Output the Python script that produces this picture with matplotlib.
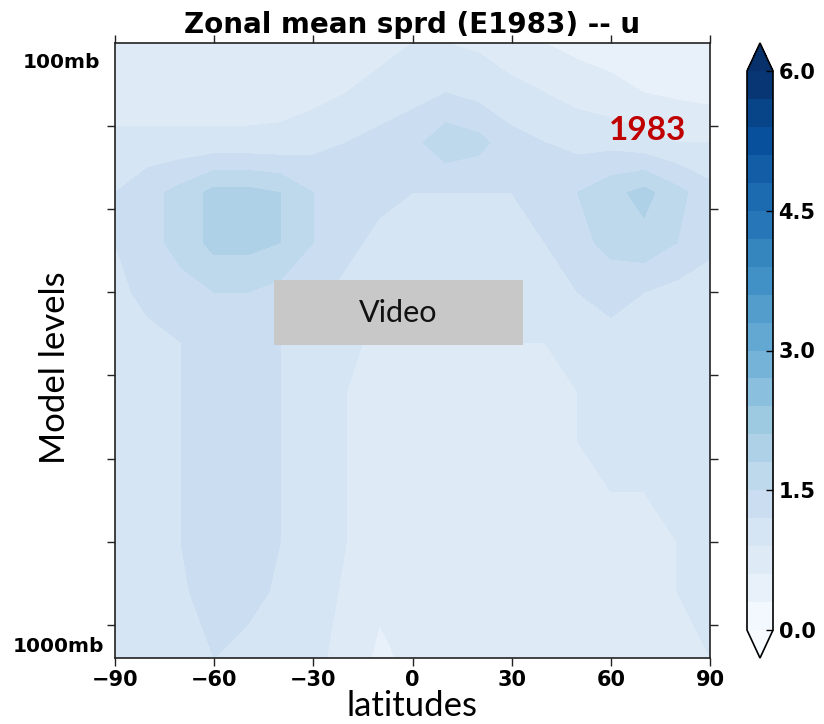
import numpy as np
import matplotlib
matplotlib.use("Agg")
import matplotlib.pyplot as plt
from matplotlib.patches import Rectangle

# Latitude grid (degrees) and model-level grid (0 = 100mb at top, 37 = 1000mb at bottom)
latitudes = [-90, -80, -70, -60, -50, -40, -30, -20, -10, 0,
             10, 20, 30, 40, 50, 60, 70, 80, 90]
model_levels = [0, 3, 6, 9, 12, 15, 18, 21, 24, 27, 30, 33, 37]

# Zonal-mean ensemble spread of u, one row per model level
spread = [
    [0.7, 0.7, 0.7, 0.7, 0.7, 0.7, 0.7, 0.75, 0.8, 0.9, 0.9, 0.85, 0.7, 0.6, 0.5, 0.45, 0.4, 0.4, 0.4],
    [0.7, 0.7, 0.7, 0.7, 0.7, 0.75, 0.8, 0.9, 1.0, 1.1, 1.2, 1.1, 1.0, 0.9, 0.8, 0.7, 0.6, 0.55, 0.5],
    [1.0, 1.0, 1.0, 1.0, 1.0, 1.0, 1.1, 1.2, 1.3, 1.4, 1.7, 1.6, 1.3, 1.2, 1.1, 1.1, 1.0, 0.9, 0.9],
    [1.2, 1.4, 1.6, 1.9, 1.9, 1.8, 1.5, 1.4, 1.3, 1.2, 1.2, 1.2, 1.2, 1.3, 1.5, 1.7, 1.9, 1.6, 1.3],
    [1.2, 1.4, 1.6, 1.9, 1.9, 1.8, 1.5, 1.3, 1.1, 1.0, 1.0, 1.0, 1.1, 1.2, 1.4, 1.6, 1.7, 1.5, 1.3],
    [1.1, 1.3, 1.4, 1.5, 1.5, 1.4, 1.3, 1.1, 1.0, 0.9, 0.9, 0.9, 1.0, 1.1, 1.2, 1.3, 1.2, 1.1, 1.0],
    [1.0, 1.1, 1.2, 1.3, 1.4, 1.2, 1.2, 1.0, 0.8, 0.8, 0.8, 0.8, 0.9, 0.9, 1.0, 1.1, 1.0, 1.0, 1.0],
    [1.0, 1.1, 1.2, 1.3, 1.3, 1.2, 1.2, 0.9, 0.8, 0.7, 0.75, 0.8, 0.8, 0.85, 0.9, 1.0, 0.9, 0.9, 0.9],
    [1.0, 1.1, 1.2, 1.3, 1.3, 1.2, 1.1, 0.9, 0.7, 0.7, 0.7, 0.8, 0.8, 0.85, 0.9, 0.95, 0.9, 0.9, 0.9],
    [1.0, 1.1, 1.2, 1.35, 1.3, 1.2, 1.1, 0.9, 0.7, 0.7, 0.7, 0.8, 0.8, 0.85, 0.85, 0.9, 0.9, 0.9, 0.95],
    [1.0, 1.1, 1.2, 1.35, 1.3, 1.2, 1.1, 0.9, 0.7, 0.7, 0.7, 0.8, 0.8, 0.8, 0.85, 0.85, 0.85, 0.9, 1.0],
    [1.0, 1.05, 1.15, 1.35, 1.3, 1.15, 1.05, 0.85, 0.65, 0.65, 0.7, 0.75, 0.75, 0.75, 0.8, 0.8, 0.85, 0.9, 1.0],
    [0.9, 1.0, 1.1, 1.2, 1.1, 1.0, 1.0, 0.75, 0.55, 0.65, 0.65, 0.7, 0.7, 0.7, 0.75, 0.75, 0.8, 0.85, 0.9],
]

lat_ticks = [-90, -60, -30, 0, 30, 60, 90]
level_ticks = [5, 10, 15, 20, 25, 30, 35]
cbar_ticks = [0.0, 1.5, 3.0, 4.5, 6.0]
contour_levels = np.linspace(0.0, 6.0, 21)

W, H = 824, 724
fig = plt.figure(figsize=(W / 100, H / 100), dpi=100)

def fig_rect(x0, y0, x1, y1):
    """Pixel box (top-left origin) -> figure fraction rect."""
    return [x0 / W, 1 - y1 / H, (x1 - x0) / W, (y1 - y0) / H]

ax = fig.add_axes(fig_rect(115, 43, 710, 658))
cax = fig.add_axes(fig_rect(747, 43, 773, 658))

cf = ax.contourf(latitudes, model_levels, np.array(spread),
                 levels=contour_levels, cmap="Blues", extend="both")
ax.set_xlim(-90, 90)
ax.set_ylim(37, 0)

ax.set_xticks(lat_ticks)
ax.set_xticklabels([f"{v:d}".replace("-", "\u2212") for v in lat_ticks],
                   fontsize=15, fontweight="bold")
ax.set_yticks(level_ticks)
ax.set_yticklabels([])
ax.tick_params(axis="both", direction="out", length=5.5, width=1,
               top=True, right=True, color="#222222")
for sp in ax.spines.values():
    sp.set_linewidth(1.2)
    sp.set_color("#222222")

ax.set_title("Zonal mean sprd (E1983) -- u", fontsize=20,
             fontweight="bold", pad=7)

# pressure annotations at the ends of the level axis
fig.text(100 / W, 1 - 62 / H, "100mb", ha="right", va="center",
         fontsize=14.5, fontweight="bold")
fig.text(104 / W, 1 - 646 / H, "1000mb", ha="right", va="center",
         fontsize=14.5, fontweight="bold")

fig.text(55 / W, 1 - 368 / H, "Model levels", rotation=90,
         ha="center", va="center", fontsize=25, family="Lato")
fig.text(412 / W, 1 - 706 / H, "latitudes", ha="center", va="center",
         fontsize=25, family="Lato")

fig.text(648 / W, 1 - 130 / H, "1983", ha="center", va="center",
         fontsize=24, fontweight="bold", color="#c00000", family="Lato")

# video placeholder box
fig.patches.append(Rectangle((274 / W, 1 - 345 / H), 249 / W, 65 / H,
                             transform=fig.transFigure, facecolor="#c8c8c8",
                             edgecolor="none", zorder=5))
fig.text(398 / W, 1 - 313 / H, "Video", ha="center", va="center",
         fontsize=22, family="Lato", color="#111111", zorder=6)

cb = fig.colorbar(cf, cax=cax, ticks=cbar_ticks)
cb.ax.set_yticklabels([f"{t:.1f}" for t in cbar_ticks],
                      fontsize=15, fontweight="bold")
cb.ax.tick_params(direction="in", length=5, width=1, pad=4)
cb.outline.set_linewidth(1.2)

fig.savefig("out.png", dpi=100)
